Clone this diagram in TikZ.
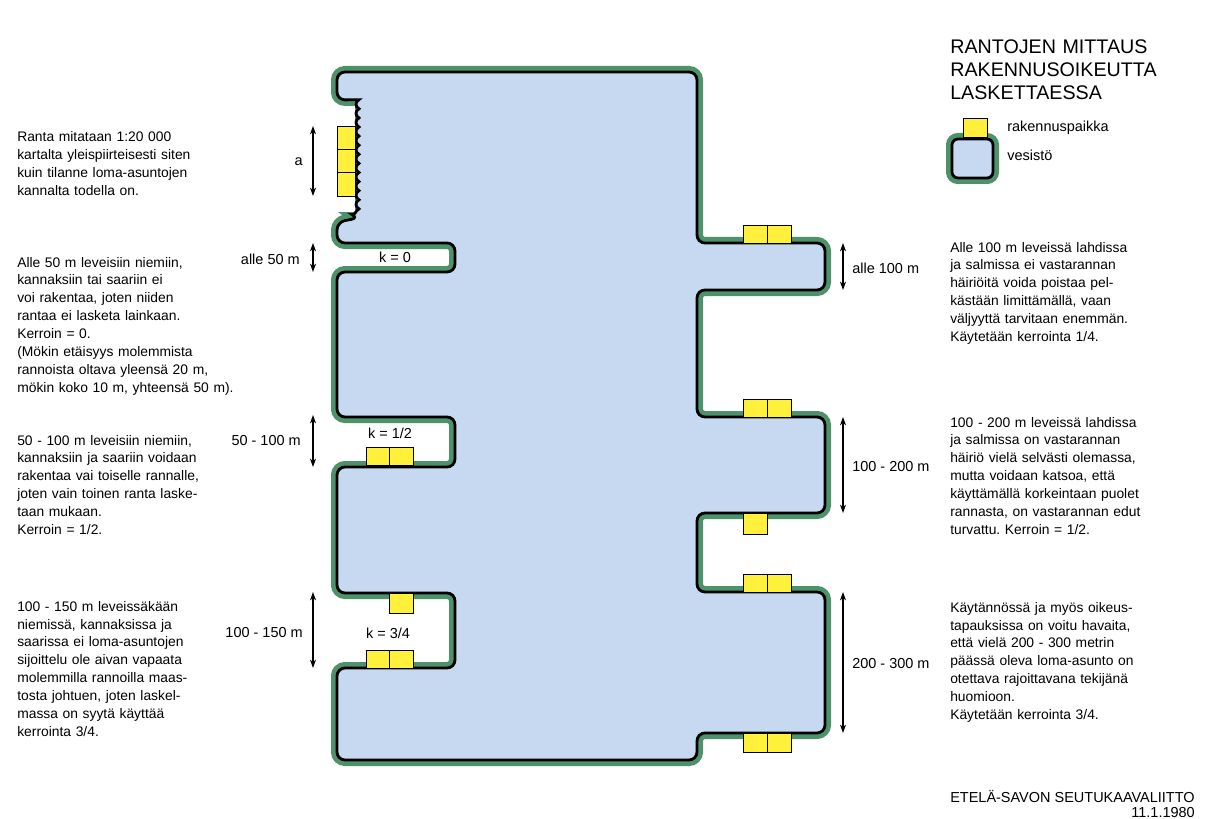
\documentclass[tikz,border=0pt]{standalone}
\usepackage{fontspec}
\setmainfont{Liberation Sans}
\usetikzlibrary{arrows.meta}
\definecolor{watrblue}{RGB}{198,217,240}
\definecolor{shoregreen}{RGB}{78,146,108}
\definecolor{lotyellow}{RGB}{255,240,60}
\tikzset{
  greenedge/.style={draw=shoregreen, line width=3mm, rounded corners=2mm},
  wateredge/.style={draw=black, line width=0.7mm, rounded corners=2mm},
  waterfill/.style={fill=watrblue, rounded corners=2mm},
  lotbox/.style={draw=black, fill=lotyellow, line width=0.4pt},
  dimarrow/.style={{Stealth[length=2.1mm,width=1.5mm]}-{Stealth[length=2.1mm,width=1.5mm]}, line width=0.3mm},
  note/.style={anchor=base west, text width=6.5cm, align=left, inner sep=0pt,
               font=\fontsize{9.85}{12.8}\selectfont},
  dimlabel/.style={inner sep=0pt, font=\fontsize{10.3}{12}\selectfont},
}
\frenchspacing
% outline of the water body, in pixel units
\newcommand\shoreline{(500,72) -- (697,72) -- (697,243) -- (825,243) -- (825,290) -- (697,290)
  -- (697,417) -- (825,417) -- (825,513) -- (697,513) -- (697,592) -- (825,592) -- (825,733)
  -- (697,733) -- (697,760) -- (337,760) -- (337,668) -- (455,668) -- (455,593) -- (337,593)
  -- (337,467) -- (455,467) -- (455,417) -- (337,417) -- (337,272) -- (455,272) -- (455,243)
  -- (337,243) -- (337,222) -- (359,218) [sharp corners]
  \foreach \i in {0,...,12} { .. controls (355,{218-9.1*\i-2}) and (355,{218-9.1*\i-7}) .. (359,{218-9.1*(\i+1)}) }
  [rounded corners=2mm] -- (337,100) -- (337,72) -- cycle}

\begin{document}
\begin{tikzpicture}[x=0.25mm, y=-0.25mm]
  \useasboundingbox (0,0) rectangle (1208,818);

  % the lake
  \draw[greenedge] \shoreline;
  \fill[white] (326,106) rectangle (355,212);
  \fill[waterfill] \shoreline;
  \draw[wateredge] \shoreline;

  % building lots
  \foreach \y in {126,149.3,172.6} \draw[lotbox] (337,\y) rectangle ++(18,23.3);
  \foreach \x/\y/\h in {366/447/18, 389.5/447/18, 389.5/593/20, 366/650/18, 389.5/650/18}
    \draw[lotbox] (\x,\y) rectangle ++(23.5,\h);
  \foreach \x/\y/\h in {743/225/18, 767/225/18, 743/399/18, 767/399/18, 743/513/21,
                        743/574/18, 767/574/18, 743/733/19, 767/733/19}
    \draw[lotbox] (\x,\y) rectangle ++(24,\h);

  % widths
  \foreach \nm/\xx/\ya/\yb in {a/313/126/196, k0/313/243/272, k1/313/415/467, k2/313/592/668,
                               b1/843/243/290, b2/843/417/513, b3/843/592/733} {
    \coordinate (\nm-t) at (\xx,\ya);
    \coordinate (\nm-b) at (\xx,\yb);
    \draw[dimarrow] (\nm-t) -- (\nm-b);
  }
  \node[dimlabel, anchor=base east] (la)  at (303,166) {a};
  \node[dimlabel, anchor=base east] (lk0) at (300,264) {alle 50 m};
  \node[dimlabel, anchor=base east] (lk1) at (301,445) {50 - 100 m};
  \node[dimlabel, anchor=base east] (lk2) at (303,637) {100 - 150 m};
  \node[dimlabel, anchor=base west] (lb1) at (852,273) {alle 100 m};
  \node[dimlabel, anchor=base west] (lb2) at (852,471) {100 - 200 m};
  \node[dimlabel, anchor=base west] (lb3) at (852,668) {200 - 300 m};
  \node[dimlabel, anchor=base] (kzero)  at (395,262) {k = 0};
  \node[dimlabel, anchor=base] (khalf)  at (390,438) {k = 1/2};
  \node[dimlabel, anchor=base] (kthree) at (388,638) {k = 3/4};

  % left notes
  \node[note] (nranta) at (17,142) {Ranta mitataan 1:20 000\\kartalta yleispiirteisesti siten\\kuin tilanne loma-asuntojen\\kannalta todella on.};
  \node[note] (nalle50) at (17,267) {Alle 50 m leveisiin niemiin,\\kannaksiin tai saariin ei\\voi rakentaa, joten niiden\\rantaa ei lasketa lainkaan.\\Kerroin = 0.\\(Mökin etäisyys molemmista\\rannoista oltava yleensä 20 m,\\mökin koko 10 m, yhteensä 50 m).};
  \node[note] (n50) at (17,445) {50 - 100 m leveisiin niemiin,\\kannaksiin ja saariin voidaan\\rakentaa vai toiselle rannalle,\\joten vain toinen ranta laske-\\taan mukaan.\\Kerroin = 1/2.};
  \node[note] (n100) at (17,611) {100 - 150 m leveissäkään\\niemissä, kannaksissa ja\\saarissa ei loma-asuntojen\\sijoittelu ole aivan vapaata\\molemmilla rannoilla maas-\\tosta johtuen, joten laskel-\\massa on syytä käyttää\\kerrointa 3/4.};

  % right notes
  \node[note] (nalle100) at (950,252) {Alle 100 m leveissä lahdissa\\ja salmissa ei vastarannan\\häiriöitä voida poistaa pel-\\kästään limittämällä, vaan\\väljyyttä tarvitaan enemmän.\\Käytetään kerrointa 1/4.};
  \node[note] (n200) at (950,427) {100 - 200 m leveissä lahdissa\\ja salmissa on vastarannan\\häiriö vielä selvästi olemassa,\\mutta voidaan katsoa, että\\käyttämällä korkeintaan puolet\\rannasta, on vastarannan edut\\turvattu. Kerroin = 1/2.};
  \node[note] (n300) at (950,612) {Käytännössä ja myös oikeus-\\tapauksissa on voitu havaita,\\että vielä 200 - 300 metrin\\päässä oleva loma-asunto on\\otettava rajoittavana tekijänä\\huomioon.\\Käytetään kerrointa 3/4.};

  % title
  \node[note, font=\fontsize{14}{16.3}\selectfont] (title) at (950,54) {RANTOJEN MITTAUS\\RAKENNUSOIKEUTTA\\LASKETTAESSA};

  % legend
  \draw[greenedge, rounded corners=1.5mm] (952,139) rectangle (993,178);
  \draw[wateredge, fill=watrblue, rounded corners=1.5mm] (952,139) rectangle (993,178);
  \draw[lotbox] (963,118) rectangle (987,137);
  \node[dimlabel, anchor=base west] (lglot)   at (1007,132) {rakennuspaikka};
  \node[dimlabel, anchor=base west] (lgwater) at (1007,161) {vesistö};

  % source
  \node[dimlabel, anchor=base west] (src)  at (950,802) {ETELÄ-SAVON SEUTUKAAVALIITTO};
  \node[dimlabel, anchor=base east] (date) at (1195,817) {11.1.1980};
\end{tikzpicture}
\end{document}
